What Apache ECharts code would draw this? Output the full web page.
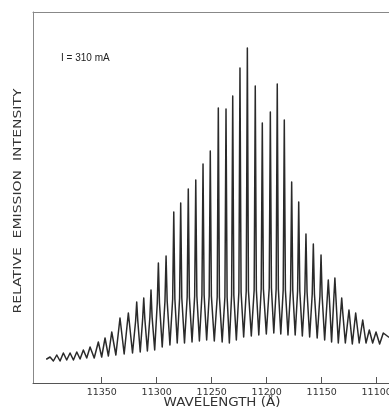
<!DOCTYPE html>
<html><head><meta charset="utf-8">
<script src="https://cdn.jsdelivr.net/npm/echarts@6/dist/echarts.min.js"></script>
<style>html,body{margin:0;padding:0;background:#fff}#c{width:389px;height:417px}</style>
</head><body><div id="c"></div>
<script>
// ---- data ----
const tickValues = [11350, 11300, 11250, 11200, 11150, 11100];
const xTitle = 'WAVELENGTH (Å)';
const yTitle = 'RELATIVE  EMISSION  INTENSITY';
const annotation = 'I = 310 mA';

// longitudinal mode positions (Å) and peak heights (relative units)
const modeWavelength = [11397.0, 11390.9, 11384.9, 11378.8, 11372.7, 11366.7, 11360.6, 11353.1, 11347.0, 11340.9,
  11333.4, 11325.8, 11318.2, 11311.8, 11305.2, 11298.5, 11291.5, 11284.5, 11278.2, 11271.3,
  11264.5, 11257.9, 11251.3, 11244.0, 11237.0, 11230.9, 11224.3, 11217.6, 11210.4, 11204.0,
  11196.7, 11190.4, 11184.0, 11177.3, 11170.9, 11164.3, 11157.6, 11150.6, 11144.0, 11138.0,
  11131.8, 11125.2, 11119.1, 11112.7, 11106.7, 11100.6, 11094.0];
const modePeak = [26, 28, 30, 30, 31, 33, 36, 41, 45, 51,
  65, 70, 81, 85, 93, 120, 127, 171, 180, 194,
  203, 219, 232, 275, 274, 287, 315, 335, 297, 260,
  271, 299, 263, 201, 181, 149, 139, 128, 103, 105,
  85, 73, 70, 63, 53, 51, 50];
// level where each strong mode narrows into a thin spike (null: no shoulder)
const modeBody = [null, null, null, null, null, null, null, null, null, null,
  null, null, 62, 64, 66, 80, 82, 84, 85, 86,
  87, 88, 87, 86, 86, 88, 91, 92, 93, 94,
  95, 94, 93, 93, 92, 91, 89, 87, 84, 84,
  70, null, null, null, null, null, null];
// minima between consecutive modes
const troughLevel = [22, 22, 23, 23, 24, 25, 25, 26, 27, 28,
  29, 30, 31, 32, 33, 36, 38, 40, 40, 41,
  42, 43, 42, 41, 40, 43, 46, 47, 48, 49,
  50, 49, 48, 48, 47, 46, 45, 43, 41, 40,
  40, 39, 40, 40, 40, 39];
const traceStart = [11400.0, 24];
const traceEnd = [11089.2, 46];

// ---- build the trace ----
const SPIKE_HALF = 1.0; // Å
const trace = [traceStart];
for (let i = 0; i < modeWavelength.length; i++) {
  const w = modeWavelength[i];
  if (modeBody[i] != null) trace.push([w + SPIKE_HALF, modeBody[i]]);
  trace.push([w, modePeak[i]]);
  if (modeBody[i] != null) trace.push([w - SPIKE_HALF, modeBody[i]]);
  if (i < troughLevel.length) trace.push([(w + modeWavelength[i + 1]) / 2, troughLevel[i]]);
}
trace.push(traceEnd);

const chart = echarts.init(document.getElementById('c'), null, {renderer: 'canvas'});
chart.setOption({
  animation: false,
  backgroundColor: '#ffffff',
  grid: {left: 33, right: 0, top: 12, bottom: 34, containLabel: false, outerBoundsMode: 'none'},
  xAxis: [{
    type: 'value', position: 'bottom', inverse: true,
    min: 11088.8, max: 11412.5,
    axisLine: {show: true, lineStyle: {color: '#555', width: 1}},
    axisTick: {show: true, inside: true, length: 6, lineStyle: {color: '#555'}, customValues: tickValues},
    axisLabel: {show: true, margin: 5, color: '#333', fontSize: 9.5, fontFamily: 'DejaVu Sans', customValues: tickValues,
      formatter: function (v) { return String(v); }},
    splitLine: {show: false}
  }, {
    type: 'value', position: 'top', inverse: true,
    min: 11088.8, max: 11412.5,
    axisLine: {show: true, lineStyle: {color: '#888', width: 1}},
    axisTick: {show: false}, axisLabel: {show: false}, splitLine: {show: false}
  }],
  yAxis: {
    type: 'value', min: 0, max: 371,
    axisLine: {show: true, lineStyle: {color: '#888', width: 1}},
    axisTick: {show: false}, axisLabel: {show: false}, splitLine: {show: false}
  },
  series: [{
    type: 'line', xAxisIndex: 0, yAxisIndex: 0,
    data: trace, showSymbol: false, symbol: 'none', smooth: false,
    lineStyle: {color: '#2a2a2a', width: 1.5, join: 'round', cap: 'round'}
  }],
  graphic: [
    {type: 'text', x: 61, y: 58, style: {text: annotation, fill: '#222', font: '10px "Liberation Sans"', textAlign: 'left', textVerticalAlign: 'middle'}},
    {type: 'text', x: 222, y: 403, scaleX: 1.18, style: {text: xTitle, fill: '#333', font: '11.4px "DejaVu Sans"', textAlign: 'center', textVerticalAlign: 'middle'}},
    {type: 'text', x: 18, y: 201, rotation: Math.PI / 2, scaleX: 1.4, style: {text: yTitle, fill: '#333', font: '10px "DejaVu Sans"', textAlign: 'center', textVerticalAlign: 'middle'}}
  ]
});
</script>
</body></html>
